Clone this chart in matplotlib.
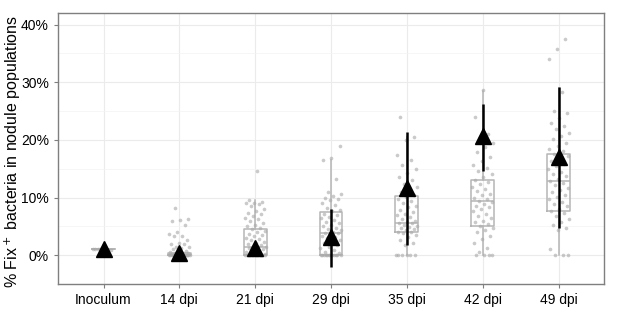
import matplotlib
matplotlib.use("Agg")
import matplotlib.pyplot as plt
import matplotlib.ticker as ticker
import numpy as np

plt.rcParams['font.family'] = ['Liberation Sans', 'DejaVu Sans']

# categories
groups = ['Inoculum', '14 dpi', '21 dpi', '29 dpi', '35 dpi', '42 dpi', '49 dpi']

# individual nodule values (% Fix+)
points = [
    [1.0, 1.0, 1.1, 0.9, 1.0, 1.1, 0.9, 1.0],
    [8.2, 6.3, 6.1, 5.9, 5.2, 4.0, 3.6, 3.4, 3.3, 2.6, 2.2, 2.0, 1.9, 1.5, 1.4,
     1.2, 1.0, 0.8, 0.6, 0.5, 0.4, 0.3, 0.3, 0.2, 0.2, 0.1, 0.1, 0.1, 0.0, 0.0,
     0.0, 0.0, 0.0, 0.0, 0.0, 0.0, 0.0, 0.0, 0.0, 0.0, 0.0, 0.0, 0.0, 0.0],
    [14.6, 9.6, 9.3, 9.1, 9.0, 8.8, 8.5, 8.0, 7.6, 7.3, 7.1, 6.8, 6.5, 6.2, 5.9,
     5.5, 5.2, 5.0, 4.8, 4.5, 4.2, 4.0, 3.7, 3.5, 3.3, 3.0, 2.8, 2.6, 2.3, 2.1,
     1.9, 1.7, 1.5, 1.5, 1.4, 1.2, 1.0, 0.8, 0.6, 0.4, 0.3, 0.2, 0.0, 0.0, 0.0,
     0.0, 0.0, 0.0, 0.0, 0.0, 0.0, 0.0, 0.0, 0.0, 0.0, 0.0, 0.0, 0.0],
    [19.0, 16.8, 16.5, 13.3, 11.0, 10.6, 10.3, 10.0, 9.7, 9.5, 9.0, 8.7, 8.2,
     7.9, 7.6, 7.2, 7.0, 6.7, 6.4, 6.1, 5.8, 5.5, 5.2, 5.0, 4.7, 4.5, 4.3, 4.1,
     3.9, 3.8, 3.6, 3.4, 3.2, 3.0, 2.7, 2.4, 2.1, 1.8, 1.5, 1.2, 0.9, 0.6, 0.3,
     0.0, 0.0, 0.0, 0.0, 0.0, 0.0, 0.0, 0.0, 0.0, 0.0, 0.0, 0.0],
    [24.0, 20.5, 20.0, 17.3, 16.5, 15.7, 15.0, 14.2, 13.6, 13.0, 12.4, 11.8,
     11.3, 10.9, 10.5, 10.1, 9.8, 9.4, 9.0, 8.6, 8.3, 7.9, 7.5, 7.2, 6.9, 6.6,
     6.3, 6.0, 5.8, 5.6, 5.5, 5.3, 5.1, 4.9, 4.7, 4.5, 4.3, 4.1, 4.0, 3.8, 3.5,
     3.1, 2.7, 2.2, 1.7, 0.0, 0.0, 0.0, 0.0, 0.0, 0.0],
    [28.6, 24.0, 21.0, 20.5, 19.5, 18.7, 17.9, 17.0, 16.3, 15.7, 15.1, 14.6,
     14.0, 13.5, 13.1, 12.7, 12.3, 11.9, 11.5, 11.1, 10.7, 10.4, 10.0, 9.7, 9.4,
     9.2, 8.9, 8.6, 8.3, 8.0, 7.6, 7.2, 6.8, 6.4, 6.0, 5.7, 5.4, 5.1, 4.8, 4.4,
     4.0, 3.4, 2.8, 2.2, 1.2, 0.6, 0.0, 0.0, 0.0, 0.0],
    [37.5, 35.8, 34.1, 28.3, 25.0, 24.6, 23.8, 23.0, 22.4, 21.8, 21.2, 20.6,
     20.1, 19.5, 19.0, 18.5, 18.0, 17.6, 17.2, 16.8, 16.3, 15.9, 15.4, 15.0,
     14.5, 14.1, 13.7, 13.3, 12.9, 12.5, 12.1, 11.7, 11.3, 10.9, 10.5, 10.1,
     9.7, 9.3, 8.9, 8.5, 8.1, 7.7, 7.3, 6.8, 6.3, 5.8, 5.3, 4.8, 4.3, 1.0,
     0.0, 0.0, 0.0],
]

# box statistics
box_q1 = [1.0, 0.0, 0.0, 0.0, 4.0, 5.1, 7.6]
box_med = [1.0, 0.1, 1.5, 3.9, 5.6, 9.4, 12.9]
box_q3 = [1.0, 0.4, 4.5, 7.5, 10.3, 13.0, 17.6]
whisk_lo = [1.0, 0.0, 0.0, 0.0, 0.0, 0.0, 0.0]
whisk_hi = [1.0, 1.0, 9.6, 16.5, 20.5, 28.5, 29.0]

# mean and error bars
mean_val = [1.0, 0.4, 1.2, 3.2, 11.7, 20.6, 17.1]
err_lo = [1.0, 0.4, 1.2, -2.0, 1.7, 14.6, 4.7]
err_hi = [1.0, 0.4, 1.2, 8.0, 21.4, 26.3, 29.1]

fig = plt.figure(figsize=(6.17, 3.25), dpi=100)
ax = fig.add_axes([0.094, 0.126, 0.885, 0.834])

x = np.arange(len(groups))

# grid
ax.set_axisbelow(True)
ax.yaxis.set_minor_locator(ticker.MultipleLocator(5))
ax.grid(which='major', color='#ebebeb', linewidth=0.8)
ax.grid(which='minor', axis='y', color='#f3f3f3', linewidth=0.5)

# boxes
stats = []
for i in range(len(groups)):
    stats.append(dict(q1=box_q1[i], med=box_med[i], q3=box_q3[i],
                      whislo=whisk_lo[i], whishi=whisk_hi[i], fliers=[]))
gray = '#b5b5b5'
ax.bxp(stats, positions=x, widths=0.3, showfliers=False, showcaps=False,
       boxprops=dict(color=gray, linewidth=1.1),
       medianprops=dict(color=gray, linewidth=1.1),
       whiskerprops=dict(color=gray, linewidth=1.1), zorder=2)

# jittered points (deterministic offsets)
for i, vals in enumerate(points):
    vals = np.array(vals)
    k = np.arange(len(vals))
    offs = ((k * 0.618034 + 0.3 * i) % 1 - 0.5) * 0.28
    ax.scatter(x[i] + offs, vals, s=7, color='#a8a8a8', alpha=0.6,
               linewidths=0, zorder=3)

# error bars and means
ax.vlines(x, err_lo, err_hi, color='black', linewidth=1.8, zorder=4)
ax.plot(x, mean_val, linestyle='none', marker='^', markersize=11,
        color='black', zorder=5)

ax.set_xlim(-0.6, 6.6)
ax.set_ylim(-5, 42)
ax.set_xticks(x)
ax.set_xticklabels(groups)
ax.yaxis.set_major_locator(ticker.MultipleLocator(10))
ax.yaxis.set_major_formatter(ticker.FuncFormatter(lambda v, p: f'{v:.0f}%'))
ax.tick_params(which='major', length=3, color='#7f7f7f', labelsize=10,
               labelcolor='black')
ax.tick_params(which='minor', length=0)

for s in ax.spines.values():
    s.set_color('#7f7f7f')
    s.set_linewidth(1.0)

ax.set_ylabel('% Fix$^+$ bacteria in nodule populations', fontsize=11.5)
ax.yaxis.set_label_coords(-0.064, 0.49)

fig.savefig('out.png', dpi=100)
